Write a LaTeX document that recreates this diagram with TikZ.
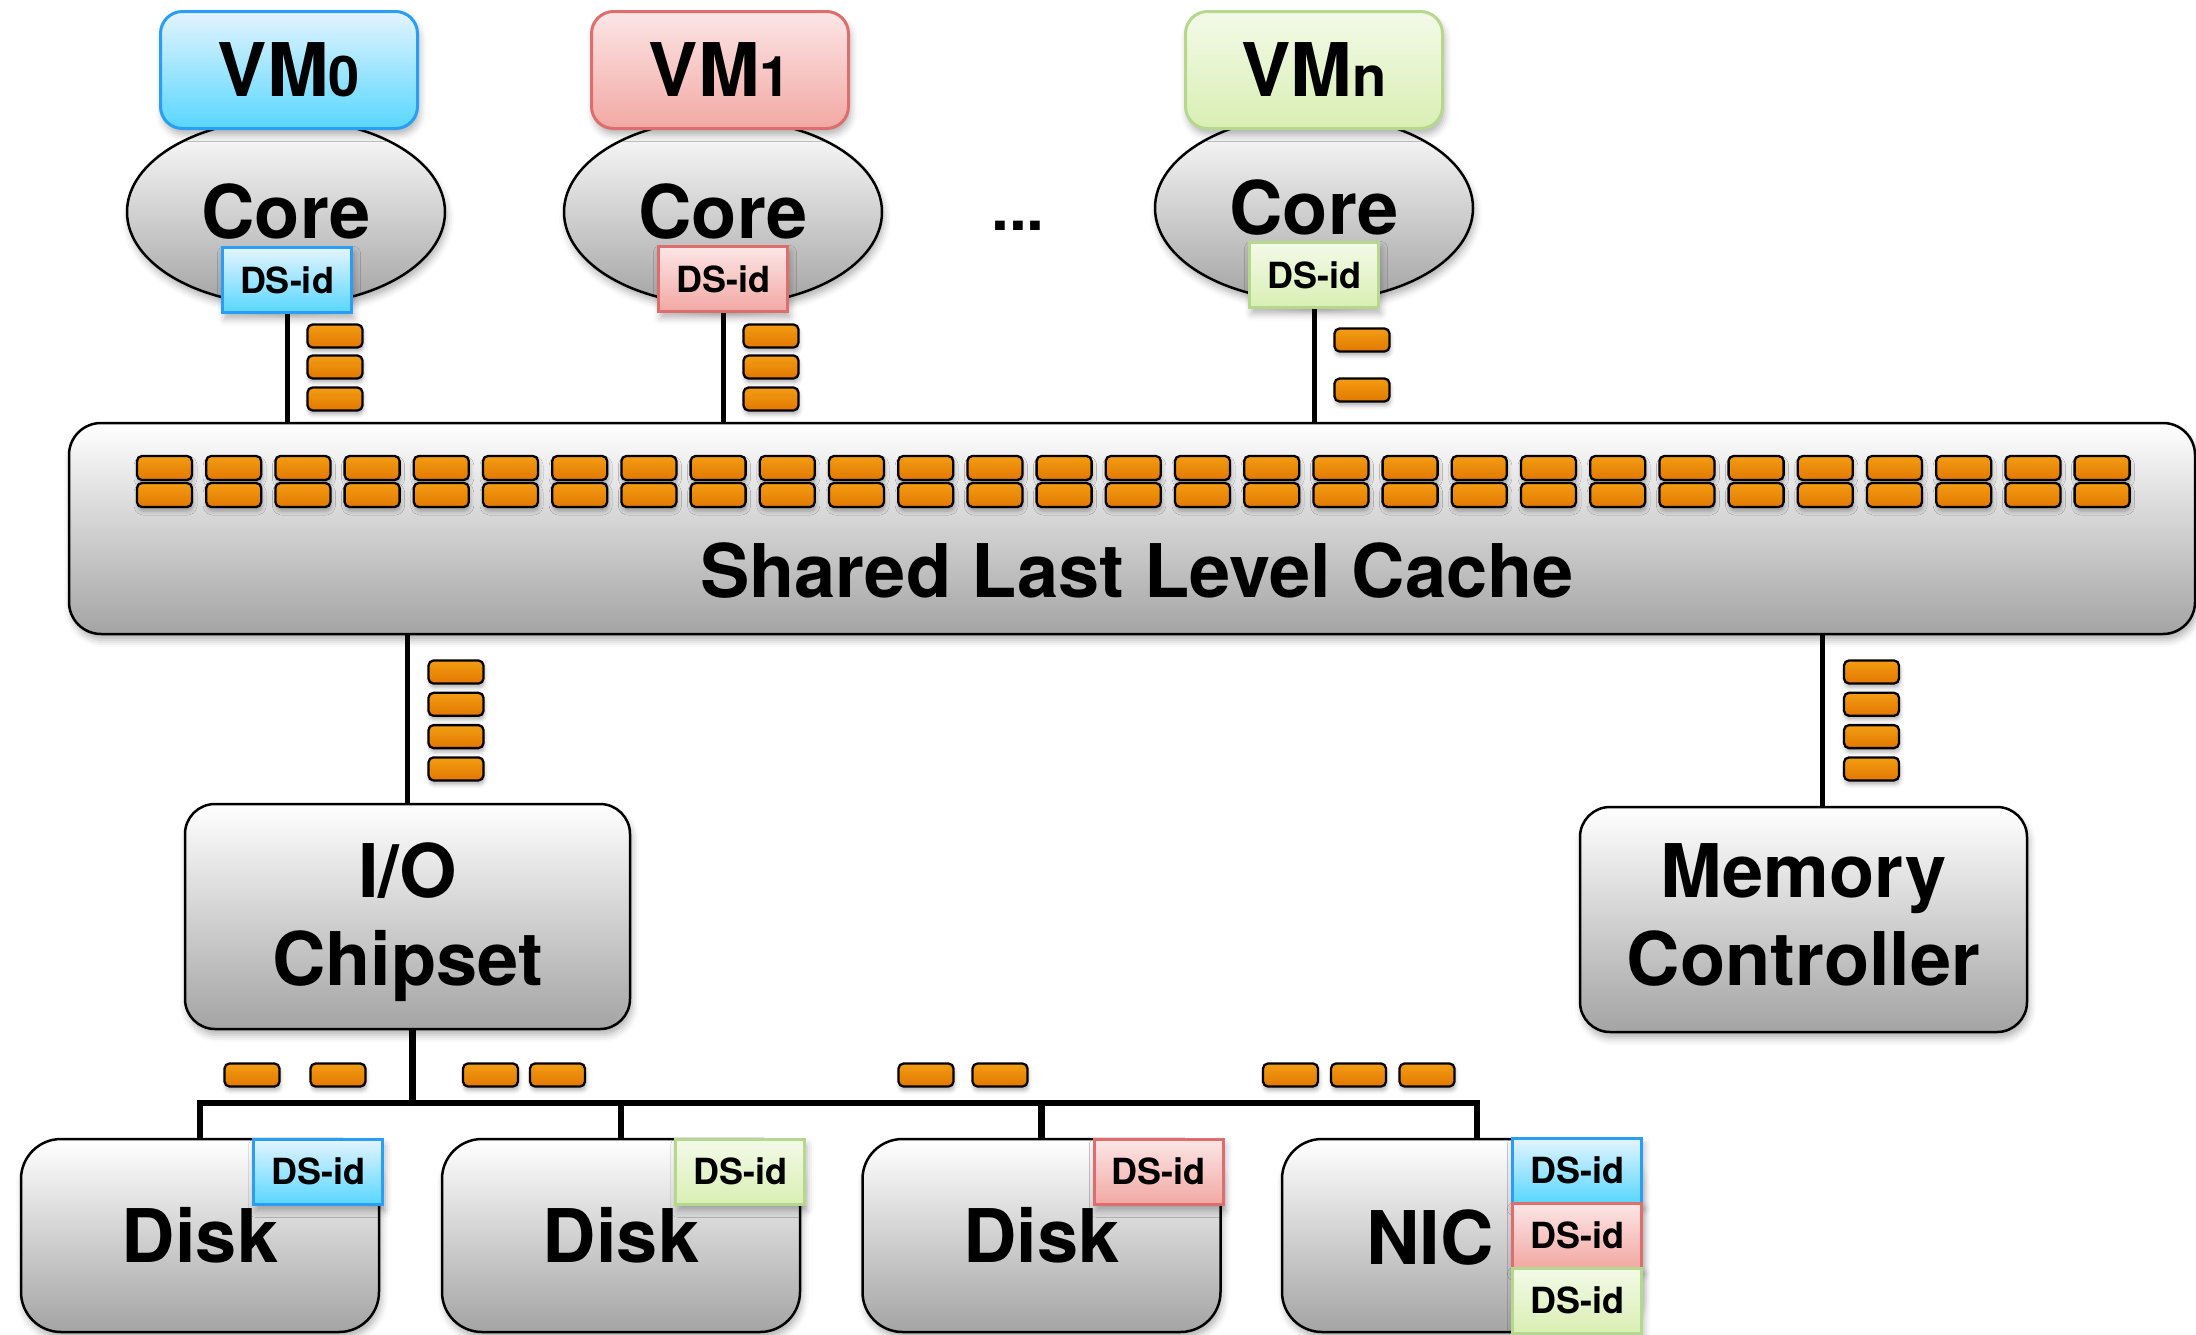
\documentclass[tikz,border=0pt]{standalone}
\usepackage{fontspec}
\setmainfont{TeX Gyre Heros}
\usetikzlibrary{shapes.geometric,shadows.blur}
\pgfdeclarelayer{background}
\pgfsetlayers{background,main}

\definecolor{blueT}{HTML}{E4F4FE}
\definecolor{blueB}{HTML}{58D7FF}
\definecolor{blueL}{HTML}{2A9DF4}
\definecolor{redT}{HTML}{FCE6E6}
\definecolor{redB}{HTML}{F2A8A3}
\definecolor{redL}{HTML}{DD6E6E}
\definecolor{greenT}{HTML}{F3FAE8}
\definecolor{greenB}{HTML}{D9EFB3}
\definecolor{greenL}{HTML}{B6D88E}
\definecolor{orT}{HTML}{F39D14}
\definecolor{orB}{HTML}{E27800}
\definecolor{grB}{HTML}{A4A4A4}

\tikzset{
  big/.style={font=\fontsize{74}{88}\selectfont\bfseries},
  shad/.style={blur shadow={shadow xshift=2pt, shadow yshift=-6pt, shadow blur radius=7pt, shadow opacity=30}},
  smallshad/.style={blur shadow={shadow xshift=1pt, shadow yshift=-4pt, shadow blur radius=4pt, shadow opacity=30}},
  graybox/.style={draw=black, line width=2.5pt, top color=white, bottom color=grB,
    rounded corners=30pt, shad, big, align=center, inner sep=0pt},
  coreell/.style={ellipse, draw=black, line width=2.5pt, top color=white, bottom color=grB,
    minimum width=318pt, minimum height=186pt, inner sep=0pt, shad, big},
  vmbox/.style={minimum width=257pt, minimum height=117pt, rounded corners=22pt, line width=3pt,
    inner sep=0pt, shad, big},
  vmblue/.style={vmbox, draw=blueL, top color=blueT, bottom color=blueB},
  vmred/.style={vmbox, draw=redL, top color=redT, bottom color=redB},
  vmgreen/.style={vmbox, draw=greenL, top color=greenT, bottom color=greenB},
  dsbox/.style={minimum width=129pt, minimum height=65pt, inner sep=0pt, line width=3pt,
    font=\fontsize{36}{40}\selectfont\bfseries, shad},
  dsblue/.style={dsbox, draw=blueL, top color=blueT, bottom color=blueB},
  dsred/.style={dsbox, draw=redL, top color=redT, bottom color=redB},
  dsgreen/.style={dsbox, draw=greenL, top color=greenT, bottom color=greenB},
  qbox/.style={draw=black, line width=2.3pt, top color=orT, bottom color=orB, rounded corners=5pt,
    minimum width=55pt, minimum height=23pt, inner sep=0pt, smallshad},
  conn/.style={draw=black, line width=5pt},
  bus/.style={draw=black, line width=6.5pt},
  txt/.style={big, inner sep=0pt}
}
\newcommand{\subsc}[1]{{\fontsize{56}{56}\selectfont #1}}

\begin{document}
\begin{tikzpicture}[x=1pt,y=-1pt]
\useasboundingbox (0,0) rectangle (2196,1334);

% Shared last level cache
\node[graybox, rounded corners=32pt, minimum width=2126pt, minimum height=211pt] (llc) at (1132,528.5) {};
\foreach \i in {0,...,28} {
  \node[qbox, minimum height=24pt] (ca-\i) at ({164.5+69.2*\i},468) {};
  \node[qbox, minimum height=24pt] (cb-\i) at ({164.5+69.2*\i},495) {};
}
\node[txt] (llclabel) at (1137,571) {Shared Last Level Cache};

% Cores
\node[coreell] (core0) at (286,212) {Core};
\node[coreell] (core1) at (723,212) {Core};
\node[coreell] (coren) at (1314,208) {Core};

\node[vmblue] (vm0) at (289,70) {VM\subsc{0}};
\node[vmred] (vm1) at (720,70) {VM\subsc{1}};
\node[vmgreen] (vmn) at (1314,70) {VM\subsc{n}};

\node[dsblue] (ds0) at (287,280) {DS-id};
\node[dsred] (ds1) at (723,279) {DS-id};
\node[dsgreen] (dsn) at (1314,275) {DS-id};

\node[font=\fontsize{64}{64}\selectfont\bfseries, inner sep=0pt] (dots) at (1018,226) {...};

% queues between cores and LLC
\foreach \j/\y in {1/336,2/367,3/399} {
  \node[qbox] (q0-\j) at (335,\y) {};
  \node[qbox] (q1-\j) at (771,\y) {};
}
\node[qbox] (qn-1) at (1362,340) {};
\node[qbox] (qn-2) at (1362,390) {};

% I/O chipset and memory controller
\node[graybox, minimum width=445pt, minimum height=225pt] (io) at (407.5,916.5) {};
\node[txt] (iolabel) at (407.5,923.5) {\begin{tabular}{@{}c@{}}I/O\\Chipset\end{tabular}};
\node[graybox, minimum width=447pt, minimum height=225pt] (mc) at (1803.5,919.5) {};
\node[txt] (mclabel) at (1803.5,923.5) {\begin{tabular}{@{}c@{}}Memory\\Controller\end{tabular}};

\foreach \j in {0,...,3} {
  \node[qbox] (qio-\j) at (456,{672+32.3*\j}) {};
  \node[qbox] (qmc-\j) at (1871.5,{672+32.3*\j}) {};
}

% devices
\node[graybox, rounded corners=40pt, minimum width=358pt, minimum height=193pt] (disk1) at (200,1235.5) {Disk};
\node[graybox, rounded corners=40pt, minimum width=358pt, minimum height=193pt] (disk2) at (621,1235.5) {Disk};
\node[graybox, rounded corners=40pt, minimum width=358pt, minimum height=193pt] (disk3) at (1041.5,1235.5) {Disk};
\node[graybox, rounded corners=40pt, minimum width=358pt, minimum height=193pt] (nic) at (1461,1235.5) {};
\node[txt] (niclabel) at (1430,1238) {NIC};

\node[dsblue, anchor=north east] (dsd1) at ([xshift=4pt]disk1.north east) {DS-id};
\node[dsgreen, anchor=north east] (dsd2) at ([xshift=5pt]disk2.north east) {DS-id};
\node[dsred, anchor=north east] (dsd3) at ([xshift=3pt]disk3.north east) {DS-id};
\node[dsblue] (dsnic1) at (1577,1170.5) {DS-id};
\node[dsred] (dsnic2) at (1577,1235.5) {DS-id};
\node[dsgreen] (dsnic3) at (1577,1300.5) {DS-id};

\foreach \x [count=\k] in {252,338,490.5,557.5,926,1000,1290.5,1358.5,1427} {
  \node[qbox] (qb-\k) at (\x,1075) {};
}

% connectors
\coordinate (nicdrop) at (1477,1103);
\coordinate (iodrop) at ([xshift=5pt]io.south);
\begin{pgfonlayer}{background}
\draw[conn] (ds0.south) -- (ds0.south |- llc.north);
\draw[conn] (ds1.south) -- (ds1.south |- llc.north);
\draw[conn] (dsn.south) -- (dsn.south |- llc.north);
\draw[conn] (llc.south -| io.north) -- (io.north);
\draw[conn] ([xshift=19pt]mc.north |- llc.south) -- ([xshift=19pt]mc.north);
\draw[bus] (disk1.north) |- (nicdrop) -- (nicdrop |- nic.north);
\draw[bus] (iodrop) -- (iodrop |- nicdrop);
\draw[bus] (disk2.north) -- (disk2.north |- nicdrop);
\draw[bus] (disk3.north) -- (disk3.north |- nicdrop);
\end{pgfonlayer}
\end{tikzpicture}
\end{document}
